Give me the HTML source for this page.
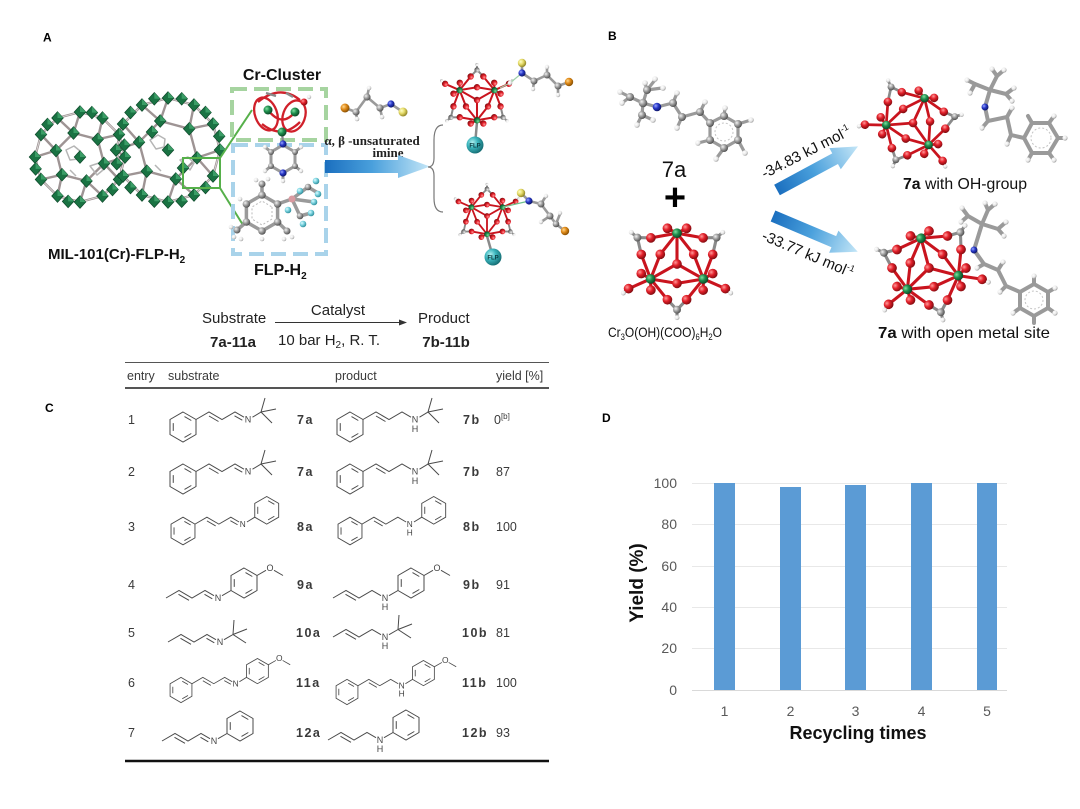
<!DOCTYPE html>
<html><head><meta charset="utf-8">
<style>
html,body{margin:0;padding:0;background:#fff;}
svg{display:block;}
text{font-family:"Liberation Sans",Arial,sans-serif;}
.ser{font-family:"Liberation Serif","Times New Roman",serif;}
.tb{font-size:12.5px;fill:#3a3a3a;}
.lb{font-size:12.5px;fill:#3a3a3a;font-weight:bold;letter-spacing:1.5px;}
</style></head><body>
<svg width="1080" height="809" viewBox="0 0 1080 809" xmlns="http://www.w3.org/2000/svg">
<defs>
<radialGradient id="gR" cx="0.35" cy="0.35" r="0.7"><stop offset="0" stop-color="#ff9a9a"/><stop offset="0.45" stop-color="#e3202a"/><stop offset="1" stop-color="#7a0a0e"/></radialGradient>
<radialGradient id="gG" cx="0.35" cy="0.35" r="0.7"><stop offset="0" stop-color="#7fe0a0"/><stop offset="0.45" stop-color="#1f8f4e"/><stop offset="1" stop-color="#0a4222"/></radialGradient>
<radialGradient id="gC" cx="0.35" cy="0.35" r="0.7"><stop offset="0" stop-color="#f2f2f2"/><stop offset="0.45" stop-color="#a2a2a2"/><stop offset="1" stop-color="#4a4a4a"/></radialGradient>
<radialGradient id="gH" cx="0.35" cy="0.35" r="0.7"><stop offset="0" stop-color="#ffffff"/><stop offset="0.6" stop-color="#e8e8e8"/><stop offset="1" stop-color="#9a9a9a"/></radialGradient>
<radialGradient id="gN" cx="0.35" cy="0.35" r="0.7"><stop offset="0" stop-color="#9aa8ff"/><stop offset="0.45" stop-color="#2838c8"/><stop offset="1" stop-color="#0c1460"/></radialGradient>
<radialGradient id="gY" cx="0.35" cy="0.35" r="0.7"><stop offset="0" stop-color="#ffffc8"/><stop offset="0.45" stop-color="#e6dc6a"/><stop offset="1" stop-color="#8a7e20"/></radialGradient>
<radialGradient id="gO" cx="0.35" cy="0.35" r="0.7"><stop offset="0" stop-color="#ffd890"/><stop offset="0.45" stop-color="#e08a18"/><stop offset="1" stop-color="#804a00"/></radialGradient>
<radialGradient id="gF" cx="0.35" cy="0.35" r="0.7"><stop offset="0" stop-color="#e0fbff"/><stop offset="0.45" stop-color="#7cd4e0"/><stop offset="1" stop-color="#2a8a98"/></radialGradient>
<radialGradient id="gT" cx="0.35" cy="0.35" r="0.7"><stop offset="0" stop-color="#b0f0f0"/><stop offset="0.45" stop-color="#3ab4bc"/><stop offset="1" stop-color="#146a70"/></radialGradient>
<linearGradient id="gA" x1="0" y1="0" x2="1" y2="0"><stop offset="0" stop-color="#1b6fbf"/><stop offset="0.45" stop-color="#4aa0dc"/><stop offset="1" stop-color="#c4e6f7"/></linearGradient>

<g id="bz"><polygon points="0,-15 13,-7.5 13,7.5 0,15 -13,7.5 -13,-7.5"/><path d="M1.5,-10.4L8.3,-6.5M8.3,6.5L1.5,10.4M-9.75,3.9V-3.9"/></g>

<g id="oc"><polygon points="0,-6.3 5.8,0 0,6.3 -5.8,0" fill="#1a7343" stroke="#0c4729" stroke-width=".7"/><polygon points="0,-6.3 5.8,0 0,0" fill="#3a9d66"/></g>

<g id="cl" stroke-linecap="round">
 <path stroke="#c9141e" stroke-width="3.5" fill="none" d="M0,-35L-10.9,-40.6M0,-35L10.9,-40.6M0,-35L-29.7,-29.7M0,-35L29.7,-29.7M0,-35L-19,-11M0,-35L19,-11M0,-35L0,0M-30,17L-29.7,29.7M-30,17L-40.6,10.9M-30,17L-40.6,-10.9M-30,17L-10.9,40.6M-30,17L-19,-11M-30,17L0,22M-30,17L0,0M-30,17L-55,28M30,17L29.7,29.7M30,17L40.6,10.9M30,17L40.6,-10.9M30,17L10.9,40.6M30,17L19,-11M30,17L0,22M30,17L0,0M30,17L55,28"/>
 <path stroke="#8a8a8a" stroke-width="3.5" fill="none" d="M0,52L10.9,40.6M0,52L-10.9,40.6M-45,-30L-40.6,-10.9M-45,-30L-29.7,-29.7M45,-30L40.6,-10.9M45,-30L29.7,-29.7M0,52V61M-45,-30L-52,-36M45,-30L52,-36M-55,28L-61,33M55,28L61,33"/>
 <g fill="url(#gR)">
  <circle cx="40.6" cy="10.9" r="5.5"/><circle cx="29.7" cy="29.7" r="5.5"/><circle cx="10.9" cy="40.6" r="5.5"/><circle cx="-10.9" cy="40.6" r="5.5"/><circle cx="-29.7" cy="29.7" r="5.5"/><circle cx="-40.6" cy="10.9" r="5.5"/><circle cx="-40.6" cy="-10.9" r="5.5"/><circle cx="-29.7" cy="-29.7" r="5.5"/><circle cx="-10.9" cy="-40.6" r="5.5"/><circle cx="10.9" cy="-40.6" r="5.5"/><circle cx="29.7" cy="-29.7" r="5.5"/><circle cx="40.6" cy="-10.9" r="5.5"/>
  <circle cx="0" cy="22" r="5.5"/><circle cx="-19" cy="-11" r="5.5"/><circle cx="19" cy="-11" r="5.5"/><circle cx="0" cy="0" r="5.5"/><circle cx="-55" cy="28" r="5.5"/><circle cx="55" cy="28" r="5.5"/>
 </g>
 <g fill="url(#gG)"><circle cx="0" cy="-35" r="5.5"/><circle cx="-30" cy="17" r="5.5"/><circle cx="30" cy="17" r="5.5"/></g>
 <g fill="url(#gC)"><circle cx="0" cy="52" r="4.5"/><circle cx="-45" cy="-30" r="4.5"/><circle cx="45" cy="-30" r="4.5"/></g>
 <g fill="url(#gH)"><circle cx="0" cy="61" r="2.8"/><circle cx="-52" cy="-36" r="2.8"/><circle cx="52" cy="-36" r="2.8"/><circle cx="-61" cy="33" r="2.8"/><circle cx="61" cy="33" r="2.8"/></g>
</g>

<!-- skeletal structures -->
<g id="s1"><use href="#bz"/><path d="M13,-7.5L26,-15L39,-7.5L52,-15L61,-9.8M26,-11L35.5,-5.5M51.5,-11.2L59.3,-6.8M69.5,-9.8L78,-15L82,-29M78,-15L93,-18M78,-15L89,-4"/><text x="65" y="-4.3" stroke="none" fill="#444" font-size="9" text-anchor="middle">N</text></g>
<g id="p1"><use href="#bz"/><path d="M13,-7.5L26,-15L39,-7.5L52,-15L61,-9.8M26,-11L35.5,-5.5M69.5,-9.8L78,-15L82,-29M78,-15L93,-18M78,-15L89,-4"/><text x="65" y="-4.3" stroke="none" fill="#444" font-size="9" text-anchor="middle">N</text><text x="65" y="5" stroke="none" fill="#444" font-size="9" text-anchor="middle">H</text></g>
<g id="s3"><use href="#bz"/><use href="#bz" x="91" y="-22.5"/><path d="M13,-7.5L26,-15L39,-7.5L52,-15L61,-9.8M26,-11L35.5,-5.5M51.5,-11.2L59.3,-6.8M69.5,-9.8L78,-15"/><text x="65" y="-4.3" stroke="none" fill="#444" font-size="9" text-anchor="middle">N</text></g>
<g id="p3"><use href="#bz"/><use href="#bz" x="91" y="-22.5"/><path d="M13,-7.5L26,-15L39,-7.5L52,-15L61,-9.8M26,-11L35.5,-5.5M69.5,-9.8L78,-15"/><text x="65" y="-4.3" stroke="none" fill="#444" font-size="9" text-anchor="middle">N</text><text x="65" y="5" stroke="none" fill="#444" font-size="9" text-anchor="middle">H</text></g>
<g id="s4"><use href="#bz" x="26" y="-15"/><path d="M-52,0L-39,-7.5L-26,0L-13,-7.5L-4,-2.3M-39.5,-3.7L-29,2.3M-13.5,-3.7L-5.7,0.8M4,-2.3L13,-7.5M39,-22.5L48,-27.7M56,-27.7L65,-22.5"/><text x="0" y="3.2" stroke="none" fill="#444" font-size="9" text-anchor="middle">N</text><text x="52" y="-26.8" stroke="none" fill="#444" font-size="9" text-anchor="middle">O</text></g>
<g id="p4"><use href="#bz" x="26" y="-15"/><path d="M-52,0L-39,-7.5L-26,0L-13,-7.5L-4,-2.3M-39.5,-3.7L-29,2.3M4,-2.3L13,-7.5M39,-22.5L48,-27.7M56,-27.7L65,-22.5"/><text x="0" y="3.2" stroke="none" fill="#444" font-size="9" text-anchor="middle">N</text><text x="0" y="12" stroke="none" fill="#444" font-size="9" text-anchor="middle">H</text><text x="52" y="-26.8" stroke="none" fill="#444" font-size="9" text-anchor="middle">O</text></g>
<g id="s5"><path d="M-52,0L-39,-7.5L-26,0L-13,-7.5L-4,-2.3M-39.5,-3.7L-29,2.3M-13.5,-3.7L-5.7,0.8M4,-2.3L13,-7.5L14,-22M13,-7.5L27,-13M13,-7.5L26,1"/><text x="0" y="3.2" stroke="none" fill="#444" font-size="9" text-anchor="middle">N</text></g>
<g id="p5"><path d="M-52,0L-39,-7.5L-26,0L-13,-7.5L-4,-2.3M-39.5,-3.7L-29,2.3M4,-2.3L13,-7.5L14,-22M13,-7.5L27,-13M13,-7.5L26,1"/><text x="0" y="3.2" stroke="none" fill="#444" font-size="9" text-anchor="middle">N</text><text x="0" y="12" stroke="none" fill="#444" font-size="9" text-anchor="middle">H</text></g>
<g id="s6"><use href="#bz"/><use href="#bz" x="91" y="-22.5"/><path d="M13,-7.5L26,-15L39,-7.5L52,-15L61,-9.8M26,-11L35.5,-5.5M51.5,-11.2L59.3,-6.8M69.5,-9.8L78,-15M104,-30L113,-35.2M121,-35.2L130,-30"/><text x="65" y="-4.3" stroke="none" fill="#444" font-size="10" text-anchor="middle">N</text><text x="117" y="-34.3" stroke="none" fill="#444" font-size="10" text-anchor="middle">O</text></g>
<g id="p6"><use href="#bz"/><use href="#bz" x="91" y="-22.5"/><path d="M13,-7.5L26,-15L39,-7.5L52,-15L61,-9.8M26,-11L35.5,-5.5M69.5,-9.8L78,-15M104,-30L113,-35.2M121,-35.2L130,-30"/><text x="65" y="-4.3" stroke="none" fill="#444" font-size="10" text-anchor="middle">N</text><text x="65" y="5.5" stroke="none" fill="#444" font-size="10" text-anchor="middle">H</text><text x="117" y="-34.3" stroke="none" fill="#444" font-size="10" text-anchor="middle">O</text></g>
<g id="s7"><use href="#bz" x="26" y="-15"/><path d="M-52,0L-39,-7.5L-26,0L-13,-7.5L-4,-2.3M-39.5,-3.7L-29,2.3M-13.5,-3.7L-5.7,0.8M4,-2.3L13,-7.5"/><text x="0" y="3.2" stroke="none" fill="#444" font-size="9" text-anchor="middle">N</text></g>
<g id="p7"><use href="#bz" x="26" y="-15"/><path d="M-52,0L-39,-7.5L-26,0L-13,-7.5L-4,-2.3M-39.5,-3.7L-29,2.3M4,-2.3L13,-7.5"/><text x="0" y="3.2" stroke="none" fill="#444" font-size="9" text-anchor="middle">N</text><text x="0" y="12" stroke="none" fill="#444" font-size="9" text-anchor="middle">H</text></g>
</defs>

<rect width="1080" height="809" fill="#fff"/>

<!-- ============ Panel labels ============ -->
<g font-weight="bold" font-size="12" fill="#000">
<text x="43" y="41.5">A</text><text x="608" y="40">B</text><text x="45" y="412">C</text><text x="602" y="422">D</text>
</g>

<!-- ============ Panel A ============ -->
<g fill="none" stroke-linejoin="round">
<g stroke="#9e9494" stroke-width="2.4">
<polygon points="125,157 119,179.5 102.5,196 80,202 57.5,196 41,179.5 35,157 41,134.5 57.5,118 80,112 102.5,118 119,134.5"/>
<polygon points="104,163.5 86.5,181 62,174.7 56,150.5 73.5,133 97.7,139.3"/>
<path d="M104,163.5L125,157M104,163.5L119,179.5M86.5,181L102.5,196M86.5,181L80,202M62,174.7L57.5,196M62,174.7L41,179.5M56,150.5L35,157M56,150.5L41,134.5M73.5,133L57.5,118M73.5,133L80,112M97.7,139.3L102.5,118M97.7,139.3L119,134.5"/>
<polygon points="220,150 213,176 194,195 168,202 142,195 123,176 116,150 123,124 142,105 168,98 194,105 213,124"/>
<polygon points="197,157.8 175.8,179 146.8,171.2 139,142.2 160.2,121 189.2,128.8"/>
<path d="M197,157.8L220,150M197,157.8L213,176M175.8,179L194,195M175.8,179L168,202M146.8,171.2L142,195M146.8,171.2L123,176M139,142.2L116,150M139,142.2L123,124M160.2,121L142,105M160.2,121L168,98M189.2,128.8L194,105M189.2,128.8L213,124M119,134.5L123,124M125,157L116,150M119,179.5L123,176"/>
</g>
<g stroke="#fff" stroke-width=".8" opacity=".7">
<polygon points="125,157 119,179.5 102.5,196 80,202 57.5,196 41,179.5 35,157 41,134.5 57.5,118 80,112 102.5,118 119,134.5"/>
<polygon points="220,150 213,176 194,195 168,202 142,195 123,176 116,150 123,124 142,105 168,98 194,105 213,124"/>
</g>
<g stroke="#b5b5b5" stroke-width="1.5">
<path d="M66,150l8,-4l6,5l-2,8l-8,1zM90,166l9,-3l4,7l-6,5zM150,140l8,-5l7,4l-1,8l-8,2zM180,160l8,-3l6,6l-4,7zM70,170l6,6M155,165l6,6"/>
</g>
</g>
<g>
<use href="#oc" x="125" y="157"/><use href="#oc" x="119" y="179.5"/><use href="#oc" x="102.5" y="196"/><use href="#oc" x="80" y="202"/><use href="#oc" x="57.5" y="196"/><use href="#oc" x="41" y="179.5"/><use href="#oc" x="35" y="157"/><use href="#oc" x="41" y="134.5"/><use href="#oc" x="57.5" y="118"/><use href="#oc" x="80" y="112"/><use href="#oc" x="102.5" y="118"/><use href="#oc" x="119" y="134.5"/>
<use href="#oc" x="104" y="163.5"/><use href="#oc" x="86.5" y="181"/><use href="#oc" x="62" y="174.7"/><use href="#oc" x="56" y="150.5"/><use href="#oc" x="73.5" y="133"/><use href="#oc" x="97.7" y="139.3"/>
<use href="#oc" x="220" y="150"/><use href="#oc" x="213" y="176"/><use href="#oc" x="194" y="195"/><use href="#oc" x="168" y="202"/><use href="#oc" x="142" y="195"/><use href="#oc" x="123" y="176"/><use href="#oc" x="116" y="150"/><use href="#oc" x="123" y="124"/><use href="#oc" x="142" y="105"/><use href="#oc" x="168" y="98"/><use href="#oc" x="194" y="105"/><use href="#oc" x="213" y="124"/>
<use href="#oc" x="197" y="157.8"/><use href="#oc" x="175.8" y="179"/><use href="#oc" x="146.8" y="171.2"/><use href="#oc" x="139" y="142.2"/><use href="#oc" x="160.2" y="121"/><use href="#oc" x="189.2" y="128.8"/>
<use href="#oc" x="112.5" y="189.5"/><use href="#oc" x="68.1" y="201.4"/><use href="#oc" x="35.6" y="168.9"/><use href="#oc" x="47.5" y="124.5"/><use href="#oc" x="91.9" y="112.6"/><use href="#oc" x="124.4" y="145.1"/>
<use href="#oc" x="205.5" y="187.5"/><use href="#oc" x="154.3" y="201.2"/><use href="#oc" x="116.8" y="163.7"/><use href="#oc" x="130.5" y="112.5"/><use href="#oc" x="181.7" y="98.8"/><use href="#oc" x="219.2" y="136.3"/>
<use href="#oc" x="181.7" y="201.2"/><use href="#oc" x="130.5" y="187.5"/><use href="#oc" x="154.3" y="98.8"/><use href="#oc" x="205.5" y="112.5"/>
<use href="#oc" x="80" y="157"/><use href="#oc" x="168" y="150"/><use href="#oc" x="183" y="168"/><use href="#oc" x="152" y="132"/>
</g>
<g fill="none" stroke="#56b04a" stroke-width="2">
<rect x="183" y="158" width="37" height="30"/>
<path d="M220,158L252,110M220,188L243,225"/>
</g>

<rect x="232" y="89" width="94" height="51" fill="none" stroke="#a6d4a0" stroke-width="4" stroke-dasharray="15 7"/>
<rect x="233" y="145" width="93" height="109" fill="none" stroke="#a9d3ea" stroke-width="4" stroke-dasharray="15 7"/>

<g fill="none" stroke="#d0202a" stroke-width="2.3">
<ellipse cx="266" cy="114" rx="11" ry="17" transform="rotate(-20 266 114)"/>
<ellipse cx="294" cy="116" rx="11" ry="16" transform="rotate(20 294 116)"/>
<path d="M258,102Q280,84 300,100M268,110Q282,128 295,112M262,124Q282,140 300,122"/>
</g>
<path d="M266,93L276,96M286,93L293,97M282,132L283,143" stroke="#8a8a8a" stroke-width="2.3" fill="none"/>
<g fill="url(#gG)"><circle cx="268" cy="110" r="4.5"/><circle cx="295" cy="112" r="4.5"/><circle cx="282" cy="132" r="4.5"/></g>
<circle cx="304" cy="102" r="3.5" fill="url(#gR)"/><circle cx="309" cy="97" r="2.2" fill="url(#gH)"/>
<g fill="none" stroke="#9a9a9a" stroke-width="3">
<polygon points="283,145 295,152 295,166 283,173 271,166 271,152"/>
<path d="M295,152L301,147M295,166L301,171M271,152L265,147M271,166L265,171M283,173L283,180"/>
</g>
<circle cx="283" cy="144" r="3.6" fill="url(#gN)"/><circle cx="283" cy="173" r="3.6" fill="url(#gN)"/>
<g fill="url(#gC)"><circle cx="295" cy="152" r="3"/><circle cx="295" cy="166" r="3"/><circle cx="271" cy="166" r="3"/><circle cx="271" cy="152" r="3"/></g>
<g fill="url(#gH)"><circle cx="301" cy="147" r="2.2"/><circle cx="301" cy="171" r="2.2"/><circle cx="265" cy="147" r="2.2"/><circle cx="265" cy="171" r="2.2"/><circle cx="283" cy="181" r="2.2"/></g>
<g fill="none" stroke="#9a9a9a" stroke-width="3.5">
<polygon points="277.6,204 277.6,222 262,231 246.4,222 246.4,204 262,195"/>
<path d="M262,195V184M246.4,222L237,230M277.6,222L287,231M277.6,204L292,199M292,199L308,187M292,199L314,202M292,199L300,216M308,187L318,193M300,216L311,213"/>
</g>
<polygon points="272,207 272,219 262,225 252,219 252,207 262,201" fill="none" stroke="#bbb" stroke-width="1" stroke-dasharray="2 2"/>
<g fill="url(#gC)"><circle cx="277.6" cy="204" r="3.8"/><circle cx="277.6" cy="222" r="3.8"/><circle cx="262" cy="231" r="3.8"/><circle cx="246.4" cy="222" r="3.8"/><circle cx="246.4" cy="204" r="3.8"/><circle cx="262" cy="195" r="3.8"/><circle cx="262" cy="184" r="3.5"/><circle cx="237" cy="230" r="3.5"/><circle cx="287" cy="231" r="3.5"/><circle cx="308" cy="187" r="3.3"/><circle cx="300" cy="216" r="3.3"/></g>
<circle cx="292" cy="199" r="3.5" fill="#d99aa0"/>
<g fill="url(#gF)"><circle cx="300" cy="191" r="3.3"/><circle cx="316" cy="181" r="3.3"/><circle cx="318" cy="194" r="3.3"/><circle cx="314" cy="202" r="3.3"/><circle cx="311" cy="213" r="3.3"/><circle cx="288" cy="210" r="3.3"/><circle cx="303" cy="224" r="3.3"/></g>
<g fill="url(#gH)"><circle cx="256" cy="180" r="2.3"/><circle cx="268" cy="179" r="2.3"/><circle cx="231" cy="227" r="2.3"/><circle cx="234" cy="237" r="2.3"/><circle cx="241" cy="239" r="2.3"/><circle cx="292" cy="237" r="2.3"/><circle cx="284" cy="239" r="2.3"/><circle cx="262" cy="239" r="2.3"/><circle cx="240" cy="199" r="2.3"/></g>

<text x="282" y="80" font-size="16" font-weight="bold" text-anchor="middle" fill="#111">Cr-Cluster</text>
<text x="48" y="259" font-size="15" font-weight="bold" fill="#111">MIL-101(Cr)-FLP-H<tspan font-size="10" dy="4">2</tspan></text>
<text x="254" y="275" font-size="16" font-weight="bold" fill="#111">FLP-H<tspan font-size="10" dy="4">2</tspan></text>

<g stroke="#9a9a9a" stroke-width="2.6" fill="none"><path d="M345,108L356,112L367,97L380,108L391,104L403,112M356,112L357,119M367,97L369,88M380,108L382,117"/></g>
<circle cx="345" cy="108" r="4.5" fill="url(#gO)"/>
<g fill="url(#gC)"><circle cx="356" cy="112" r="3.6"/><circle cx="367" cy="97" r="3.6"/><circle cx="380" cy="108" r="3.6"/></g>
<circle cx="391" cy="104" r="3.6" fill="url(#gN)"/><circle cx="403" cy="112" r="4.5" fill="url(#gY)"/>
<g fill="url(#gH)"><circle cx="357" cy="119" r="2.3"/><circle cx="369" cy="88" r="2.3"/><circle cx="382" cy="117" r="2.3"/></g>

<text class="ser" x="372" y="145" font-size="13" font-weight="bold" text-anchor="middle" fill="#222">α, β -unsaturated</text>
<text class="ser" x="388" y="157" font-size="13" font-weight="bold" text-anchor="middle" fill="#222">imine</text>
<path d="M325,160H398V155L430,166.5L398,178V173H325Z" fill="url(#gA)"/>
<path d="M443,125Q434,125 434,140L434,158Q434,167 428,167Q434,167 434,176L434,198Q434,212 443,212" fill="none" stroke="#777" stroke-width="1.2"/>

<path d="M477,122L475,145" stroke="#8a8a8a" stroke-width="2.5"/>
<use href="#cl" transform="translate(477,100) rotate(180) scale(.58)"/>
<circle cx="475" cy="145" r="8.5" fill="url(#gT)"/><text x="475" y="147.5" font-size="6" font-weight="bold" text-anchor="middle" fill="#0c3a40">FLP</text>
<path d="M500,88L510,83L522,73" stroke="#9fd0a8" stroke-width="1.2" fill="none"/>
<g stroke="#9a9a9a" stroke-width="2.6" fill="none"><path d="M522,63L522,73L534,81L547,75L558,86L569,82M534,81L533,89M547,75L547,67M558,86L558,95"/></g>
<circle cx="522" cy="63" r="4.2" fill="url(#gY)"/><circle cx="522" cy="73" r="3.6" fill="url(#gN)"/>
<g fill="url(#gC)"><circle cx="534" cy="81" r="3.5"/><circle cx="547" cy="75" r="3.5"/><circle cx="558" cy="86" r="3.5"/></g>
<circle cx="569" cy="82" r="4.2" fill="url(#gO)"/>
<g fill="url(#gH)"><circle cx="510" cy="83" r="2.3"/><circle cx="533" cy="89" r="2.2"/><circle cx="547" cy="67" r="2.2"/><circle cx="558" cy="95" r="2.2"/></g>

<path d="M487,236L493,257" stroke="#8a8a8a" stroke-width="2.5"/>
<use href="#cl" transform="translate(487,216) rotate(180) scale(.52)"/>
<circle cx="493" cy="257" r="8.5" fill="url(#gT)"/><text x="493" y="259.5" font-size="6" font-weight="bold" text-anchor="middle" fill="#0c3a40">FLP</text>
<path d="M503,207L529,201" stroke="#6cc08a" stroke-width="1.2" fill="none"/>
<g stroke="#9a9a9a" stroke-width="2.6" fill="none"><path d="M521,193L529,201L541,204L550,216L556,224L565,231M541,204L546,196M550,216L541,222M556,224L560,214"/></g>
<circle cx="521" cy="193" r="4.2" fill="url(#gY)"/><circle cx="529" cy="201" r="3.6" fill="url(#gN)"/>
<g fill="url(#gC)"><circle cx="541" cy="204" r="3.5"/><circle cx="550" cy="216" r="3.5"/><circle cx="556" cy="224" r="3.3"/></g>
<circle cx="565" cy="231" r="4.2" fill="url(#gO)"/>
<g fill="url(#gH)"><circle cx="546" cy="196" r="2.2"/><circle cx="541" cy="222" r="2.2"/><circle cx="560" cy="213" r="2.2"/></g>

<!-- ============ Panel B ============ -->
<g stroke="#9a9a9a" stroke-width="3.2" fill="none" stroke-linecap="round">
<path d="M643,103L630,97M643,103L647,90M643,103L642,115M643,103L657,107L673,103L682,117L700,112L710,123"/>
<polygon points="710,123 724,116 738,124 738,140 724,148 710,140"/>
<path d="M630,97L620,92M630,97L622,103M647,90L645,83M647,90L655,80M647,90L662,88M642,115L637,125M642,115L653,120M673,103L677,93M682,117L677,128M700,112L705,102M724,116L725,108M738,124L751,120M738,140L745,153M724,148L716,159M710,140L698,143"/>
</g>
<circle cx="724" cy="132" r="9" fill="none" stroke="#c4c4c4" stroke-width="1" stroke-dasharray="2 2"/>
<g fill="url(#gC)"><circle cx="643" cy="103" r="4.3"/><circle cx="630" cy="97" r="4"/><circle cx="647" cy="90" r="4"/><circle cx="642" cy="115" r="4"/><circle cx="673" cy="103" r="4"/><circle cx="682" cy="117" r="4"/><circle cx="700" cy="112" r="4"/><circle cx="710" cy="123" r="4"/><circle cx="724" cy="116" r="4"/><circle cx="738" cy="124" r="4"/><circle cx="738" cy="140" r="4"/><circle cx="724" cy="148" r="4"/><circle cx="710" cy="140" r="4"/></g>
<circle cx="657" cy="107" r="4.3" fill="url(#gN)"/>
<g fill="url(#gH)"><circle cx="620" cy="92" r="2.8"/><circle cx="622" cy="103" r="2.8"/><circle cx="645" cy="83" r="2.8"/><circle cx="655" cy="79" r="2.8"/><circle cx="663" cy="88" r="2.8"/><circle cx="637" cy="125" r="2.8"/><circle cx="653" cy="120" r="2.8"/><circle cx="677" cy="93" r="2.8"/><circle cx="677" cy="128" r="2.8"/><circle cx="705" cy="102" r="2.8"/><circle cx="725" cy="108" r="2.8"/><circle cx="751" cy="120" r="2.8"/><circle cx="745" cy="153" r="2.8"/><circle cx="716" cy="159" r="2.8"/><circle cx="698" cy="143" r="2.8"/></g>

<text x="674" y="177" font-size="22" text-anchor="middle" fill="#111">7a</text>
<text x="675" y="210" font-size="38" font-weight="bold" text-anchor="middle" fill="#000">+</text>

<use href="#cl" transform="translate(677,264) scale(.88)"/>
<text x="608" y="337" font-size="14" fill="#111" textLength="114" lengthAdjust="spacingAndGlyphs">Cr<tspan font-size="9" dy="3">3</tspan><tspan dy="-3">O(OH)(COO)</tspan><tspan font-size="9" dy="3">6</tspan><tspan dy="-3">H</tspan><tspan font-size="9" dy="3">2</tspan><tspan dy="-3">O</tspan></text>

<g transform="translate(777,190) rotate(-28.3)"><path d="M0,-6H66V-12L92,0L66,12V6H0Z" fill="url(#gA)"/></g>
<g transform="translate(773,216) rotate(22.9)"><path d="M0,-6H66V-12L92,0L66,12V6H0Z" fill="url(#gA)"/></g>
<text transform="translate(806,152) rotate(-27)" y="5" font-size="15" text-anchor="middle" fill="#111">-34.83 kJ mol<tspan font-size="9" dy="-6">-1</tspan></text>
<text transform="translate(808,254) rotate(23)" y="5" font-size="15" text-anchor="middle" fill="#111">-33.77 kJ mol<tspan font-size="9" dy="-6">-1</tspan></text>

<use href="#cl" transform="translate(913,123) rotate(25) scale(.78)"/>
<g stroke="#9a9a9a" stroke-width="4" fill="none" stroke-linecap="round">
<path d="M990,90L975,84M990,90L997,76M990,90L1006,94M990,90L985,107L988,121L1007,117L1011,135L1024,138"/>
<polygon points="1024,138 1032,123 1049,123 1058,138 1049,153 1032,153"/>
<path d="M975,84L967,80M975,84L970,93M997,76L992,69M997,76L1004,70M1006,94L1014,88M1006,94L1012,101M988,121L982,128M1007,117L1012,108M1011,135L1007,144M1032,153L1028,160M1049,153L1054,160M1058,138L1065,138M1049,123L1054,116M1032,123L1028,116"/>
</g>
<circle cx="1041" cy="138" r="10" fill="none" stroke="#c4c4c4" stroke-width="1" stroke-dasharray="2 2"/>
<circle cx="985" cy="107" r="3.5" fill="url(#gN)"/>
<g fill="url(#gH)"><circle cx="967" cy="80" r="2.6"/><circle cx="970" cy="93" r="2.6"/><circle cx="992" cy="69" r="2.6"/><circle cx="1004" cy="70" r="2.6"/><circle cx="1014" cy="88" r="2.6"/><circle cx="1012" cy="101" r="2.6"/><circle cx="982" cy="128" r="2.6"/><circle cx="1012" cy="108" r="2.6"/><circle cx="1007" cy="144" r="2.6"/><circle cx="1028" cy="160" r="2.6"/><circle cx="1054" cy="160" r="2.6"/><circle cx="1065" cy="138" r="2.6"/><circle cx="1054" cy="116" r="2.6"/></g>
<text x="903" y="189" font-size="16" fill="#111" textLength="124" lengthAdjust="spacingAndGlyphs"><tspan font-weight="bold">7a</tspan> with OH-group</text>

<use href="#cl" transform="translate(929,268) rotate(-15) scale(.88)"/>
<g stroke="#9a9a9a" stroke-width="4" fill="none" stroke-linecap="round">
<path d="M982,224L968,216M982,224L988,210M982,224L998,229M982,224L974,250L984,264L998,270L1006,286L1020,292"/>
<polygon points="1020,292 1034,284 1048,292 1048,308 1034,316 1020,308"/>
<path d="M968,216L962,208M968,216L961,222M988,210L985,203M988,210L995,204M998,229L1006,222M998,229L1004,236M984,264L977,268M998,270L1003,262M1006,286L1000,292M1034,284L1034,276M1048,292L1055,288M1048,308L1055,313M1034,316L1034,323M1020,308L1013,313"/>
</g>
<circle cx="1034" cy="300" r="9" fill="none" stroke="#c4c4c4" stroke-width="1" stroke-dasharray="2 2"/>
<circle cx="974" cy="250" r="3.5" fill="url(#gN)"/>
<g fill="url(#gH)"><circle cx="962" cy="208" r="2.6"/><circle cx="961" cy="222" r="2.6"/><circle cx="985" cy="203" r="2.6"/><circle cx="995" cy="204" r="2.6"/><circle cx="1006" cy="222" r="2.6"/><circle cx="1004" cy="236" r="2.6"/><circle cx="977" cy="268" r="2.6"/><circle cx="1003" cy="262" r="2.6"/><circle cx="1000" cy="292" r="2.6"/><circle cx="1034" cy="276" r="2.6"/><circle cx="1055" cy="288" r="2.6"/><circle cx="1055" cy="313" r="2.6"/><circle cx="1013" cy="313" r="2.6"/></g>
<text x="878" y="338" font-size="16" fill="#111" textLength="172" lengthAdjust="spacingAndGlyphs"><tspan font-weight="bold">7a</tspan> with open metal site</text>

<!-- ============ Panel C ============ -->
<g fill="#222" font-size="15">
<text x="202" y="323">Substrate</text>
<text x="233" y="347" font-weight="bold" text-anchor="middle">7a-11a</text>
<text x="338" y="315" text-anchor="middle">Catalyst</text>
<text x="278" y="345">10 bar H<tspan font-size="10" dy="3">2</tspan><tspan dy="-3">, R. T.</tspan></text>
<text x="418" y="323">Product</text>
<text x="446" y="347" font-weight="bold" text-anchor="middle">7b-11b</text>
</g>
<path d="M275,322.5H400" stroke="#333" stroke-width="1"/>
<polygon points="399,319.5 407,322.5 399,325.5" fill="#333"/>

<path d="M125,362.5H549" stroke="#555" stroke-width="1"/>
<path d="M125,388H549" stroke="#555" stroke-width="2"/>
<path d="M125,761H549" stroke="#111" stroke-width="2.5"/>
<g class="tb">
<text x="127" y="380">entry</text><text x="168" y="380">substrate</text><text x="335" y="380">product</text><text x="496" y="380">yield [%]</text>
<text x="128" y="424">1</text><text x="128" y="476">2</text><text x="128" y="531">3</text><text x="128" y="589">4</text><text x="128" y="637">5</text><text x="128" y="687">6</text><text x="128" y="737">7</text>
<text x="494" y="424">0<tspan font-size="8" dy="-5">[b]</tspan></text>
<text x="496" y="476">87</text><text x="496" y="531">100</text><text x="496" y="589">91</text><text x="496" y="637">81</text><text x="496" y="687">100</text><text x="496" y="737">93</text>
</g>
<g class="lb">
<text x="297" y="424">7a</text><text x="463" y="424">7b</text>
<text x="297" y="476">7a</text><text x="463" y="476">7b</text>
<text x="297" y="531">8a</text><text x="463" y="531">8b</text>
<text x="297" y="589">9a</text><text x="463" y="589">9b</text>
<text x="296" y="637">10a</text><text x="462" y="637">10b</text>
<text x="296" y="687">11a</text><text x="462" y="687">11b</text>
<text x="296" y="737">12a</text><text x="462" y="737">12b</text>
</g>
<g fill="none" stroke="#4a4a4a" stroke-width="1">
<use href="#s1" transform="translate(183,427)"/>
<use href="#p1" transform="translate(350,427)"/>
<use href="#s1" transform="translate(183,479)"/>
<use href="#p1" transform="translate(350,479)"/>
<use href="#s3" transform="translate(183,531) scale(.92)"/>
<use href="#p3" transform="translate(350,531) scale(.92)"/>
<use href="#s4" transform="translate(218,598)"/>
<use href="#p4" transform="translate(385,598)"/>
<use href="#s5" transform="translate(220,642)"/>
<use href="#p5" transform="translate(385,637)"/>
<use href="#s6" transform="translate(181,690) scale(.84)"/>
<use href="#p6" transform="translate(347,692) scale(.84)"/>
<use href="#s7" transform="translate(214,741)"/>
<use href="#p7" transform="translate(380,740)"/>
</g>

<!-- ============ Panel D ============ -->
<path d="M692,483.5H1007M692,524.5H1007M692,566.5H1007M692,607.5H1007M692,648.5H1007" stroke="#e8e8e8" stroke-width="1"/>
<path d="M692,690.5H1007" stroke="#d9d9d9" stroke-width="1"/>
<g fill="#5b9bd5">
<rect x="714" y="483" width="21" height="207"/>
<rect x="780" y="487" width="21" height="203"/>
<rect x="845" y="485" width="21" height="205"/>
<rect x="911" y="483" width="21" height="207"/>
<rect x="977" y="483" width="20" height="207"/>
</g>
<g font-size="14" fill="#595959" text-anchor="end">
<text x="677" y="488">100</text><text x="677" y="529">80</text><text x="677" y="571">60</text><text x="677" y="612">40</text><text x="677" y="653">20</text><text x="677" y="695">0</text>
</g>
<g font-size="14" fill="#595959" text-anchor="middle">
<text x="724.5" y="716">1</text><text x="790.5" y="716">2</text><text x="855.5" y="716">3</text><text x="921.5" y="716">4</text><text x="987" y="716">5</text>
</g>
<text x="858" y="739" font-size="18" font-weight="bold" text-anchor="middle" fill="#111">Recycling times</text>
<text transform="translate(643,583) rotate(-90)" font-size="19" font-weight="bold" text-anchor="middle" fill="#111">Yield (%)</text>
</svg>
</body></html>
